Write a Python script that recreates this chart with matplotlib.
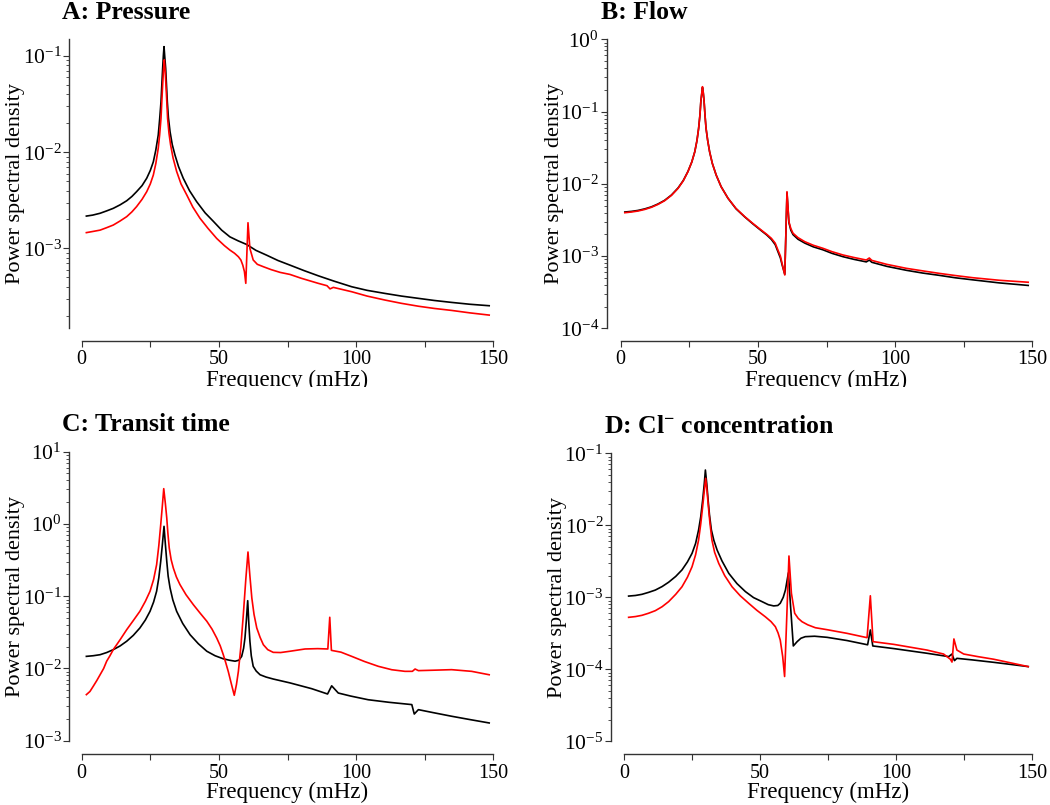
import matplotlib
matplotlib.use('Agg')
import matplotlib.pyplot as plt
from matplotlib.ticker import LogLocator, NullFormatter
from matplotlib.transforms import Bbox, TransformedBbox

plt.rcParams['font.family'] = ['Liberation Serif', 'DejaVu Serif']
plt.rcParams['mathtext.fontset'] = 'custom'
plt.rcParams['mathtext.rm'] = 'Liberation Serif'
plt.rcParams['mathtext.it'] = 'Liberation Serif:italic'
plt.rcParams['mathtext.bf'] = 'Liberation Serif:bold'

# ---------------- data (frequency in mHz, power spectral density) ----------------
# Panel A: Pressure
freq_A_black = [1.7, 4.0, 6.7, 9.0, 11.5, 14.0, 16.4, 18.3, 20.0, 22.0, 23.7, 25.0, 26.1, 27.0, 27.9,
                28.4, 28.9, 29.2, 29.5, 29.75, 30.0, 30.25, 30.6, 30.9, 31.2, 31.6, 32.2, 33.0, 34.0,
                35.3, 37.0, 39.3, 41.9, 45.0, 48.0, 51.0, 54.0, 57.0, 60.1, 63.5, 67.4, 71.5, 75.9,
                81.0, 86.2, 92.0, 98.4, 104.0, 110.5, 116.5, 122.7, 128.5, 134.8, 141.5, 148.5]
psd_A_black = [2.17e-3, 2.22e-3, 2.32e-3, 2.45e-3, 2.61e-3, 2.84e-3, 3.13e-3, 3.47e-3, 3.89e-3, 4.5e-3,
               5.37e-3, 6.46e-3, 7.94e-3, 1.05e-2, 1.51e-2, 2.19e-2, 3.35e-2, 5.01e-2, 7.45e-2, 0.100,
               0.125, 0.100, 7.45e-2, 5.01e-2, 3.35e-2, 2.29e-2, 1.63e-2, 1.20e-2, 9.33e-3, 7.08e-3,
               5.37e-3, 3.98e-3, 3.06e-3, 2.34e-3, 1.91e-3, 1.55e-3, 1.32e-3, 1.20e-3, 1.10e-3, 9.55e-4,
               8.51e-4, 7.50e-4, 6.71e-4, 5.89e-4, 5.20e-4, 4.57e-4, 4.00e-4, 3.67e-4, 3.41e-4, 3.20e-4,
               3.03e-4, 2.88e-4, 2.75e-4, 2.63e-4, 2.54e-4]
freq_A_red = [1.7, 4.0, 6.7, 9.0, 11.5, 14.0, 16.4, 18.3, 20.0, 22.0, 23.7, 25.0, 26.1, 27.0, 27.9,
              28.4, 28.9, 29.2, 29.5, 29.8, 30.1, 30.4, 30.7, 31.0, 31.3, 31.8, 32.4, 33.3, 34.6, 36.2,
              38.3, 40.5, 43.1, 46.0, 49.2, 52.0, 54.0, 55.7, 57.1, 58.0, 58.7, 59.3, 59.8, 60.6, 61.3,
              62.5, 64.0, 66.2, 69.0, 72.3, 75.9, 80.0, 86.2, 89.4, 90.5, 91.7, 98.4, 104.0, 110.5,
              116.5, 122.7, 128.5, 134.8, 141.5, 148.5]
psd_A_red = [1.46e-3, 1.50e-3, 1.55e-3, 1.64e-3, 1.75e-3, 1.93e-3, 2.14e-3, 2.40e-3, 2.72e-3, 3.24e-3,
             3.89e-3, 4.68e-3, 5.79e-3, 7.59e-3, 1.10e-2, 1.51e-2, 2.25e-2, 3.39e-2, 5.01e-2, 7.08e-2,
             9.12e-2, 7.08e-2, 5.01e-2, 3.39e-2, 2.25e-2, 1.58e-2, 1.19e-2, 8.71e-3, 6.31e-3, 4.68e-3,
             3.59e-3, 2.69e-3, 2.06e-3, 1.62e-3, 1.27e-3, 1.07e-3, 9.62e-4, 8.91e-4, 8.20e-4, 7.59e-4,
             6.71e-4, 5.75e-4, 4.34e-4, 1.85e-3, 1.00e-3, 7.59e-4, 6.84e-4, 6.46e-4, 6.03e-4, 5.64e-4,
             5.37e-4, 4.90e-4, 4.34e-4, 4.10e-4, 3.80e-4, 3.94e-4, 3.55e-4, 3.20e-4, 2.91e-4, 2.69e-4,
             2.51e-4, 2.38e-4, 2.27e-4, 2.14e-4, 2.03e-4]

# Panel B: Flow
freq_B_black = [1.5, 3.9, 6.3, 8.8, 11.2, 13.6, 16.0, 18.5, 20.9, 22.8, 24.5, 25.9, 27.0, 27.8, 28.4,
                28.9, 29.2, 29.8, 30.1, 30.4, 30.7, 31.1, 31.7, 32.4, 33.4, 34.8, 36.6, 39.1, 42.0, 45.2,
                48.2, 51.2, 53.2, 54.9, 56.3, 57.3, 58.2, 58.8, 59.8, 60.6, 61.3, 62.0, 62.8, 64.6, 67.1,
                70.2, 73.7, 77.0, 81.0, 85.0, 89.5, 90.6, 91.5, 97.0, 104.1, 110.0, 116.2, 122.0, 128.4,
                138.0, 148.5]
psd_B_black = [4.07e-3, 4.15e-3, 4.28e-3, 4.50e-3, 4.80e-3, 5.26e-3, 5.90e-3, 7.0e-3, 8.75e-3, 1.11e-2,
               1.48e-2, 2.0e-2, 2.78e-2, 3.98e-2, 5.86e-2, 9.12e-2, 0.137, 0.215, 0.180, 0.137, 9.12e-2,
               5.86e-2, 3.98e-2, 2.78e-2, 1.91e-2, 1.32e-2, 9.12e-3, 6.31e-3, 4.52e-3, 3.48e-3, 2.78e-3,
               2.25e-3, 1.96e-3, 1.70e-3, 1.44e-3, 1.15e-3, 9.4e-4, 7.6e-4, 5.6e-4, 7.5e-3, 2.9e-3,
               2.28e-3, 1.98e-3, 1.71e-3, 1.51e-3, 1.34e-3, 1.22e-3, 1.09e-3, 9.8e-4, 9.0e-4, 8.3e-4,
               8.8e-4, 8.2e-4, 7.2e-4, 6.35e-4, 5.82e-4, 5.4e-4, 5.0e-4, 4.68e-4, 4.25e-4, 3.92e-4]
freq_B_red = [1.5, 3.9, 6.3, 8.8, 11.2, 13.6, 16.0, 18.5, 20.9, 22.8, 24.5, 25.9, 27.0, 27.8, 28.4,
              28.9, 29.2, 29.8, 30.1, 30.4, 30.7, 31.1, 31.7, 32.4, 33.4, 34.8, 36.6, 39.1, 42.0, 45.2,
              48.2, 51.2, 53.2, 54.9, 56.3, 57.3, 58.2, 58.8, 59.8, 60.6, 61.3, 62.0, 62.8, 64.6, 67.1,
              70.2, 73.7, 77.0, 81.0, 85.0, 89.5, 90.6, 91.5, 97.0, 104.1, 110.0, 116.2, 122.0, 128.4,
              138.0, 148.5]
psd_B_red = [3.98e-3, 4.07e-3, 4.20e-3, 4.42e-3, 4.73e-3, 5.19e-3, 5.83e-3, 6.92e-3, 8.65e-3, 1.10e-2,
             1.47e-2, 2.0e-2, 2.78e-2, 3.98e-2, 5.86e-2, 9.12e-2, 0.137, 0.221, 0.182, 0.137, 9.12e-2,
             5.86e-2, 3.98e-2, 2.78e-2, 1.91e-2, 1.32e-2, 9.12e-3, 6.31e-3, 4.57e-3, 3.51e-3, 2.82e-3,
             2.29e-3, 2.0e-3, 1.76e-3, 1.51e-3, 1.21e-3, 1.0e-3, 7.94e-4, 5.47e-4, 7.78e-3, 2.99e-3,
             2.40e-3, 2.07e-3, 1.80e-3, 1.58e-3, 1.41e-3, 1.28e-3, 1.15e-3, 1.035e-3, 9.55e-4, 8.81e-4,
             9.40e-4, 8.71e-4, 7.67e-4, 6.76e-4, 6.24e-4, 5.75e-4, 5.37e-4, 5.01e-4, 4.62e-4, 4.34e-4]

# Panel C: Transit time
freq_C_black = [1.7, 4.2, 6.7, 9.1, 11.5, 14.0, 16.4, 18.8, 21.2, 23.2, 24.9, 26.2, 27.3, 28.1, 28.8,
                29.4, 30.0, 30.5, 31.0, 31.5, 32.2, 33.2, 34.6, 36.8, 39.5, 42.5, 45.6, 48.6, 51.6,
                53.8, 55.9, 57.3, 58.3, 59.0, 59.5, 60.0, 60.5, 60.9, 61.3, 61.8, 62.5, 63.6, 65.0,
                67.2, 69.8, 75.9, 83.8, 89.6, 91.1, 93.5, 98.0, 104.4, 112.0, 120.3, 121.2, 122.7,
                128.0, 134.8, 141.5, 148.5]
psd_C_black = [1.47e-2, 1.50e-2, 1.55e-2, 1.66e-2, 1.82e-2, 2.05e-2, 2.38e-2, 2.87e-2, 3.63e-2, 4.68e-2,
               6.18e-2, 8.3e-2, 0.117, 0.18, 0.304, 0.52, 0.927, 0.52, 0.304, 0.19, 0.130, 8.9e-2,
               6.18e-2, 4.2e-2, 2.93e-2, 2.2e-2, 1.73e-2, 1.5e-2, 1.36e-2, 1.3e-2, 1.26e-2, 1.3e-2,
               1.47e-2, 1.9e-2, 2.64e-2, 4.6e-2, 8.67e-2, 4.2e-2, 2.38e-2, 1.5e-2, 1.07e-2, 9.2e-3,
               8.18e-3, 7.6e-3, 7.14e-3, 6.31e-3, 5.25e-3, 4.43e-3, 5.75e-3, 4.57e-3, 4.15e-3, 3.69e-3,
               3.4e-3, 3.16e-3, 2.34e-3, 2.69e-3, 2.45e-3, 2.18e-3, 1.96e-3, 1.76e-3]
freq_C_red = [1.7, 3.0, 4.2, 5.5, 6.7, 8.0, 9.1, 10.3, 11.5, 14.0, 16.4, 18.8, 21.2, 23.2, 24.9, 26.2,
              27.3, 28.1, 28.8, 29.4, 29.9, 30.5, 31.0, 31.4, 31.9, 32.6, 33.4, 34.5, 35.8, 38.0, 40.7,
              43.2, 45.6, 47.5, 49.2, 50.5, 51.6, 52.5, 53.4, 54.5, 55.6, 56.4, 57.1, 58.0, 58.9, 59.8,
              60.6, 61.3, 62.0, 62.8, 63.8, 65.0, 66.2, 67.8, 69.8, 72.5, 75.9, 81.4, 86.0, 89.7, 90.4,
              91.0, 94.5, 98.4, 103.0, 108.1, 113.0, 117.8, 120.5, 121.5, 122.7, 128.0, 134.8, 142.1,
              148.5]
psd_C_red = [4.34e-3, 4.8e-3, 5.66e-3, 6.8e-3, 8.18e-3, 1.0e-2, 1.26e-2, 1.5e-2, 1.82e-2, 2.5e-2,
             3.44e-2, 4.6e-2, 6.18e-2, 8.5e-2, 0.117, 0.17, 0.273, 0.50, 0.977, 1.8, 3.08, 1.9, 1.21,
             0.75, 0.465, 0.32, 0.245, 0.185, 0.145, 0.105, 7.62e-2, 5.8e-2, 4.50e-2, 3.5e-2, 2.64e-2,
             2.05e-2, 1.55e-2, 1.2e-2, 9.12e-3, 6.2e-3, 4.25e-3, 6.0e-3, 9.12e-3, 2.0e-2, 5.55e-2, 0.17,
             0.409, 0.19, 9.44e-2, 5.6e-2, 3.63e-2, 2.7e-2, 2.13e-2, 1.82e-2, 1.67e-2, 1.66e-2, 1.73e-2,
             1.86e-2, 1.88e-2, 1.86e-2, 5.11e-2, 1.78e-2, 1.68e-2, 1.47e-2, 1.25e-2, 1.07e-2, 9.6e-3,
             9.12e-3, 9.12e-3, 9.82e-3, 9.33e-3, 9.45e-3, 9.62e-3, 9.12e-3, 8.18e-3]

# Panel D: Cl- concentration
freq_D_black = [1.7, 4.2, 6.6, 9.0, 11.5, 14.0, 16.4, 19.0, 21.3, 23.3, 25.0, 26.3, 27.4, 28.2, 28.9,
                29.5, 29.9, 30.4, 30.9, 31.4, 32.1, 33.0, 34.2, 36.0, 38.5, 41.5, 44.6, 47.6, 50.7,
                53.0, 55.0, 56.5, 57.4, 58.5, 59.3, 60.4, 61.2, 62.2, 63.6, 65.0, 66.6, 70.0, 74.6,
                81.9, 89.5, 90.5, 91.4, 99.1, 111.3, 119.3, 120.5, 121.4, 122.3, 128.0, 135.8, 142.0,
                148.5]
psd_D_black = [1.04e-3, 1.06e-3, 1.10e-3, 1.17e-3, 1.26e-3, 1.41e-3, 1.62e-3, 1.95e-3, 2.40e-3, 3.1e-3,
               4.08e-3, 5.6e-3, 8.61e-3, 1.32e-2, 2.24e-2, 3.8e-2, 5.86e-2, 3.8e-2, 2.24e-2, 1.4e-2,
               8.61e-3, 6.2e-3, 4.54e-3, 3.2e-3, 2.15e-3, 1.55e-3, 1.20e-3, 9.9e-4, 8.71e-4, 7.9e-4,
               7.59e-4, 7.7e-4, 8.26e-4, 1.0e-3, 1.26e-3, 2.19e-3, 7.41e-4, 2.11e-4, 2.42e-4, 2.7e-4,
               2.84e-4, 2.88e-4, 2.78e-4, 2.51e-4, 2.19e-4, 3.52e-4, 2.11e-4, 1.94e-4, 1.67e-4, 1.50e-4,
               1.63e-4, 1.32e-4, 1.42e-4, 1.35e-4, 1.25e-4, 1.17e-4, 1.09e-4]
freq_D_red = [1.7, 4.2, 6.6, 9.0, 11.5, 14.0, 16.4, 19.0, 21.3, 23.3, 25.0, 26.3, 27.4, 28.2, 28.9,
              29.5, 30.0, 30.5, 31.0, 31.6, 32.3, 33.3, 34.8, 37.0, 39.7, 42.7, 45.8, 48.8, 51.9, 54.0,
              55.6, 56.6, 57.4, 58.3, 59.0, 59.8, 60.6, 61.5, 62.7, 64.0, 65.4, 67.5, 70.3, 74.6, 81.9,
              89.3, 90.5, 91.5, 99.1, 111.3, 117.4, 119.9, 120.5, 121.2, 122.3, 124.8, 130.0, 135.8,
              142.0, 148.5]
psd_D_red = [5.27e-4, 5.4e-4, 5.62e-4, 6.0e-4, 6.52e-4, 7.4e-4, 8.71e-4, 1.1e-3, 1.40e-3, 1.9e-3,
             2.66e-3, 3.9e-3, 6.25e-3, 1.05e-2, 1.82e-2, 3.0e-2, 4.50e-2, 3.0e-2, 1.82e-2, 1.05e-2,
             6.25e-3, 4.2e-3, 2.96e-3, 2.0e-3, 1.40e-3, 1.05e-3, 8.26e-4, 6.6e-4, 5.37e-4, 4.6e-4,
             3.91e-4, 3.2e-4, 2.55e-4, 1.50e-4, 7.94e-5, 5.37e-4, 3.75e-3, 1.14e-3, 6.0e-4, 5.1e-4,
             4.58e-4, 4.15e-4, 3.78e-4, 3.55e-4, 3.16e-4, 2.75e-4, 1.05e-3, 2.42e-4, 2.22e-4, 1.85e-4,
             1.63e-4, 1.38e-4, 1.26e-4, 2.64e-4, 1.85e-4, 1.63e-4, 1.5e-4, 1.38e-4, 1.23e-4, 1.09e-4]

titles = ['A: Pressure', 'B: Flow', 'C: Transit time', r'D: Cl$^{\mathbf{-}}$ concentration']
x_ticks = [0, 50, 100, 150]
x_minor_ticks = [25, 75, 125]
y_limits = [(1.48e-4, 0.149), (1e-4, 1.0), (1e-3, 10.0), (1e-5, 1e-1)]
x_label = 'Frequency (mHz)'
y_label = 'Power spectral density'

series = [
    (freq_A_black, psd_A_black, freq_A_red, psd_A_red),
    (freq_B_black, psd_B_black, freq_B_red, psd_B_red),
    (freq_C_black, psd_C_black, freq_C_red, psd_C_red),
    (freq_D_black, psd_D_black, freq_D_red, psd_D_red),
]

# ---------------- layout (pixels) ----------------
W, H = 1050, 805
# left, top, right, bottom of the data area; left/bottom spine offsets (px); xlabel gap (px)
boxes = [(81.7, 39.3, 493.3, 328.3, 12.4, 12.4, 42.0),
         (620.7, 39.3, 1032.3, 328.3, 14.0, 12.4, 42.0),
         (81.7, 451.7, 493.3, 740.7, 12.4, 13.3, 41.5),
         (624.0, 453.3, 1032.3, 741.3, 13.0, 12.7, 41.0)]

fig = plt.figure(figsize=(W / 100, H / 100), dpi=100)
axis_color = '#333333'

for i, (l, t, r, b, offl, offb, xgap) in enumerate(boxes):
    ax = fig.add_axes([l / W, 1 - b / H, (r - l) / W, (b - t) / H])
    fb, pb, fr, pr = series[i]
    ax.plot(fb, pb, color='black', lw=1.2)
    ax.plot(fr, pr, color='#ff0000', lw=1.2)
    ax.set_yscale('log')
    ax.set_xlim(0, 150)
    ax.set_ylim(*y_limits[i])
    for s in ['top', 'right']:
        ax.spines[s].set_visible(False)
    for s in ['left', 'bottom']:
        ax.spines[s].set_color(axis_color)
        ax.spines[s].set_linewidth(1.0)
    ax.spines['left'].set_position(('outward', offl * 0.72))
    ax.spines['bottom'].set_position(('outward', offb * 0.72))
    ax.set_xticks(x_ticks)
    ax.set_xticks(x_minor_ticks, minor=True)
    ax.yaxis.set_major_locator(LogLocator(base=10, numticks=20))
    ax.yaxis.set_minor_locator(LogLocator(base=10, subs=range(2, 10), numticks=20))
    ax.yaxis.set_minor_formatter(NullFormatter())
    ax.tick_params(axis='y', which='major', labelsize=15.5, direction='out', length=4.5,
                   width=0.8, color=axis_color, pad=1)
    ax.tick_params(axis='x', which='major', labelsize=14.5, direction='out', length=4.5,
                   width=0.8, color=axis_color, pad=2.5)
    ax.tick_params(axis='y', which='minor', direction='out', length=2.2, width=0.6, color=axis_color)
    ax.tick_params(axis='x', which='minor', direction='out', length=4.5, width=0.8, color=axis_color)

    xl = ax.set_xlabel(x_label, fontsize=16.5)
    ax.xaxis.set_label_coords(((l + r) / 2) / W, 1 - (b + xgap) / H, transform=fig.transFigure)
    ax.set_ylabel(y_label, fontsize=16)
    ax.yaxis.set_label_coords((l - 57) / W, 1 - ((t + b) / 2) / H, transform=fig.transFigure)
    if i < 2:
        clip = TransformedBbox(Bbox([[0, 1 - 387 / H], [1, 1]]), fig.transFigure)
        xl.set_clip_box(clip)
        xl.set_clip_on(True)

    fig.text((l - 20) / W, 1 - (t - 20.5) / H, titles[i], fontsize=18.5, fontweight='bold',
             ha='left', va='baseline')

fig.savefig('out.png', dpi=100)
